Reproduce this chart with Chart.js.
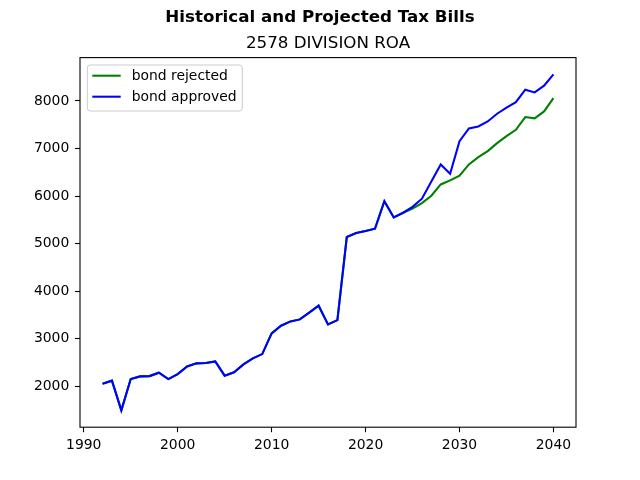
<!DOCTYPE html>
<html>
<head>
<meta charset="utf-8">
<script src="https://cdn.jsdelivr.net/npm/chart.js@4"></script>
<style>
html,body{margin:0;padding:0;background:#fff;}
canvas{display:block;}
</style>
</head>
<body>
<canvas id="c" width="640" height="480"></canvas>
<script>
const years = [1992,1993,1994,1995,1996,1997,1998,1999,2000,2001,2002,2003,2004,2005,2006,2007,2008,2009,2010,2011,2012,2013,2014,2015,2016,2017,2018,2019,2020,2021,2022,2023,2024,2025,2026,2027,2028,2029,2030,2031,2032,2033,2034,2035,2036,2037,2038,2039,2040];
const bondRejected = [2056,2120,1495,2154,2210,2216,2288,2154,2258,2420,2484,2490,2526,2225,2295,2462,2588,2679,3114,3275,3366,3408,3549,3696,3303,3393,5139,5223,5264,5314,5891,5552,5650,5735,5852,6007,6245,6330,6428,6666,6819,6945,7114,7261,7394,7661,7633,7780,8060];
const bondApproved = [2056,2120,1495,2154,2210,2216,2288,2154,2258,2420,2484,2490,2526,2225,2295,2462,2588,2679,3114,3275,3366,3408,3549,3696,3303,3393,5139,5223,5264,5314,5891,5552,5650,5775,5945,6309,6666,6471,7156,7423,7465,7569,7731,7858,7976,8236,8180,8320,8558];
const xTicks = [1990,2000,2010,2020,2030,2040];
const yTicks = [2000,3000,4000,5000,6000,7000,8000];
const seriesLabels = ['bond rejected','bond approved'];
const seriesColors = ['#008000','#0000ff'];
const suptitle = 'Historical and Projected Tax Bills';
const subtitle = '2578 DIVISION ROA';

const FONT = '"DejaVu Sans", sans-serif';
const allVals = bondRejected.concat(bondApproved);
const yMinD = Math.min(...allVals), yMaxD = Math.max(...allVals);
const yR = yMaxD - yMinD;
const xMinD = years[0], xMaxD = years[years.length-1];
const xR = xMaxD - xMinD;

const pts = arr => years.map((y,i)=>({x:y,y:arr[i]}));

const overlay = {
  id:'overlay',
  afterDraw(chart){
    const ctx = chart.ctx, a = chart.chartArea;
    ctx.save();
    // spines
    ctx.strokeStyle = '#000';
    ctx.lineWidth = 1.1;
    ctx.strokeRect(a.left, a.top, a.right-a.left, a.bottom-a.top);
    // titles
    ctx.fillStyle = '#000';
    ctx.textAlign = 'center';
    ctx.textBaseline = 'alphabetic';
    ctx.font = 'bold 16.7px ' + FONT;
    ctx.fillText(suptitle, 320, 22.3);
    ctx.font = '16.7px ' + FONT;
    ctx.fillText(subtitle, (a.left+a.right)/2, 48.3);
    // legend
    const lx = a.left + 7.3, ly = a.top + 7.4, lw = 155, lh = 46, r = 3;
    ctx.beginPath();
    ctx.moveTo(lx+r, ly);
    ctx.lineTo(lx+lw-r, ly); ctx.quadraticCurveTo(lx+lw, ly, lx+lw, ly+r);
    ctx.lineTo(lx+lw, ly+lh-r); ctx.quadraticCurveTo(lx+lw, ly+lh, lx+lw-r, ly+lh);
    ctx.lineTo(lx+r, ly+lh); ctx.quadraticCurveTo(lx, ly+lh, lx, ly+lh-r);
    ctx.lineTo(lx, ly+r); ctx.quadraticCurveTo(lx, ly, lx+r, ly);
    ctx.closePath();
    ctx.fillStyle = 'rgba(255,255,255,0.8)';
    ctx.fill();
    ctx.strokeStyle = '#cccccc';
    ctx.lineWidth = 1;
    ctx.stroke();
    ctx.font = '13.9px ' + FONT;
    ctx.textAlign = 'left';
    ctx.textBaseline = 'middle';
    seriesLabels.forEach((lab,i)=>{
      const yy = ly + 10.7 + i*21;
      ctx.strokeStyle = seriesColors[i];
      ctx.lineWidth = 2.08;
      ctx.beginPath(); ctx.moveTo(lx+5, yy); ctx.lineTo(lx+33.4, yy); ctx.stroke();
      ctx.fillStyle = '#000';
      ctx.fillText(lab, lx+44.4, yy+0.5);
    });
    ctx.restore();
  }
};

new Chart(document.getElementById('c'), {
  type:'line',
  data:{
    datasets:[
      {label:seriesLabels[0], data:pts(bondRejected), borderColor:seriesColors[0], borderWidth:2.08, pointRadius:0, tension:0, fill:false, order:1},
      {label:seriesLabels[1], data:pts(bondApproved), borderColor:seriesColors[1], borderWidth:2.08, pointRadius:0, tension:0, fill:false, order:0}
    ]
  },
  options:{
    responsive:false,
    animation:false,
    devicePixelRatio:1,
    layout:{padding:{top:57.6,right:64,left:0,bottom:0}},
    plugins:{legend:{display:false},title:{display:false},tooltip:{enabled:false}},
    scales:{
      x:{
        type:'linear',
        min:xMinD-0.05*xR, max:xMaxD+0.05*xR,
        afterBuildTicks(s){ s.ticks = xTicks.map(v=>({value:v})); },
        afterFit(s){ s.height = 52.8; },
        grid:{drawOnChartArea:false, drawTicks:true, tickLength:5, tickColor:'#000', tickWidth:1.1},
        border:{display:false},
        ticks:{color:'#000', font:{family:FONT,size:13.9}, padding:5, maxRotation:0, autoSkip:false, callback:v=>String(v)}
      },
      y:{
        type:'linear',
        min:yMinD-0.05*yR, max:yMaxD+0.05*yR,
        afterBuildTicks(s){ s.ticks = yTicks.map(v=>({value:v})); },
        afterFit(s){ s.width = 80; },
        grid:{drawOnChartArea:false, drawTicks:true, tickLength:5, tickColor:'#000', tickWidth:1.1},
        border:{display:false},
        ticks:{color:'#000', font:{family:FONT,size:13.9}, padding:5.7, autoSkip:false, callback:v=>String(v)}
      }
    }
  },
  plugins:[overlay]
});
</script>
</body>
</html>
